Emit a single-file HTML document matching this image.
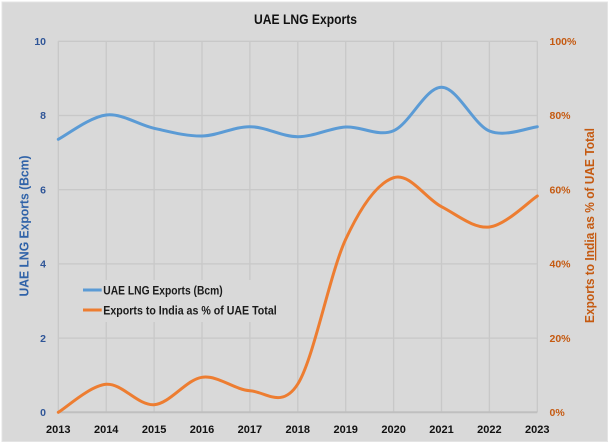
<!DOCTYPE html>
<html>
<head>
<meta charset="utf-8">
<style>
html,body{margin:0;padding:0;background:#ffffff;}
svg{display:block;}
text{font-family:"Liberation Sans",Arial,sans-serif;font-weight:bold;}
</style>
</head>
<body>
<svg width="610" height="445" viewBox="0 0 610 445" xmlns="http://www.w3.org/2000/svg">
  <rect x="0" y="0" width="610" height="445" fill="#ffffff"/>
  <rect x="2" y="2" width="605.5" height="439.5" fill="#d9d9d9" stroke="#e4e4e4" stroke-width="1"/>

  <!-- gridlines horizontal -->
  <g stroke="#c8c8c8" stroke-width="1.3">
    <line x1="58.3" y1="41.3" x2="537.3" y2="41.3"/>
    <line x1="58.3" y1="115.5" x2="537.3" y2="115.5"/>
    <line x1="58.3" y1="189.7" x2="537.3" y2="189.7"/>
    <line x1="58.3" y1="263.9" x2="537.3" y2="263.9"/>
    <line x1="58.3" y1="338.1" x2="537.3" y2="338.1"/>
  </g>
  <!-- gridlines vertical -->
  <g stroke="#c8c8c8" stroke-width="1.3">
    <line x1="58.3" y1="41.3" x2="58.3" y2="412.3"/>
    <line x1="106.2" y1="41.3" x2="106.2" y2="412.3"/>
    <line x1="154.1" y1="41.3" x2="154.1" y2="412.3"/>
    <line x1="202.0" y1="41.3" x2="202.0" y2="412.3"/>
    <line x1="249.9" y1="41.3" x2="249.9" y2="412.3"/>
    <line x1="297.8" y1="41.3" x2="297.8" y2="412.3"/>
    <line x1="345.7" y1="41.3" x2="345.7" y2="412.3"/>
    <line x1="393.6" y1="41.3" x2="393.6" y2="412.3"/>
    <line x1="441.5" y1="41.3" x2="441.5" y2="412.3"/>
    <line x1="489.4" y1="41.3" x2="489.4" y2="412.3"/>
    <line x1="537.3" y1="41.3" x2="537.3" y2="412.3"/>
  </g>
  <!-- x axis line -->
  <line x1="58.3" y1="412.3" x2="537.3" y2="412.3" stroke="#bfbfbf" stroke-width="2"/>

  <!-- title -->
  <text x="254" y="24" font-size="14" fill="#111111" textLength="103" lengthAdjust="spacingAndGlyphs">UAE LNG Exports</text>

  <!-- left ticks -->
  <g font-size="10.5" fill="#2f5597" text-anchor="end">
    <text x="46" y="45">10</text>
    <text x="46" y="119.2">8</text>
    <text x="46" y="193.4">6</text>
    <text x="46" y="267.6">4</text>
    <text x="46" y="341.8">2</text>
    <text x="46" y="416">0</text>
  </g>
  <!-- right ticks -->
  <g font-size="10.5" fill="#c55a11">
    <text x="549.5" y="45">100%</text>
    <text x="549.5" y="119.2">80%</text>
    <text x="549.5" y="193.4">60%</text>
    <text x="549.5" y="267.6">40%</text>
    <text x="549.5" y="341.8">20%</text>
    <text x="549.5" y="416">0%</text>
  </g>
  <!-- x labels -->
  <g font-size="11" fill="#111111" text-anchor="middle">
    <text x="58.3" y="433">2013</text>
    <text x="106.2" y="433">2014</text>
    <text x="154.1" y="433">2015</text>
    <text x="202.0" y="433">2016</text>
    <text x="249.9" y="433">2017</text>
    <text x="297.8" y="433">2018</text>
    <text x="345.7" y="433">2019</text>
    <text x="393.6" y="433">2020</text>
    <text x="441.5" y="433">2021</text>
    <text x="489.4" y="433">2022</text>
    <text x="537.3" y="433">2023</text>
  </g>

  <!-- axis titles -->
  <text transform="translate(28.5,226) rotate(-90)" text-anchor="middle" font-size="12.5" fill="#2f62a8" textLength="141" lengthAdjust="spacingAndGlyphs">UAE LNG Exports (Bcm)</text>
  <text transform="translate(594,225.5) rotate(-90)" text-anchor="middle" font-size="12.5" fill="#c55a11" textLength="195" lengthAdjust="spacingAndGlyphs">Exports to <tspan text-decoration="underline">India</tspan> as % of UAE Total</text>

  <!-- series: orange -->
  <path fill="none" stroke="#ed7d31" stroke-width="3" stroke-linecap="round" stroke-linejoin="round"
    d="M58.3,412.3 C66.3,407.63 90.2,385.57 106.2,384.3
       C122.2,383.03 138.1,405.87 154.1,404.7
       C170.1,403.53 186.0,379.63 202.0,377.3
       C218.0,374.97 233.9,389.58 249.9,390.7
       C265.9,391.82 281.8,409.23 297.8,384
       C313.8,358.77 329.7,273.68 345.7,239.3
       C361.7,204.92 377.6,183.13 393.6,177.7
       C409.6,172.27 425.5,198.48 441.5,206.7
       C457.5,214.92 473.4,228.78 489.4,227
       C505.4,225.22 529.3,201.17 537.3,196"/>
  <!-- series: blue -->
  <path fill="none" stroke="#5b9bd5" stroke-width="3" stroke-linecap="round" stroke-linejoin="round"
    d="M58.3,139.3 C66.3,135.25 90.2,116.83 106.2,115
       C122.2,113.17 138.1,124.8 154.1,128.3
       C170.1,131.8 186.0,136.27 202.0,136
       C218.0,135.73 233.9,126.58 249.9,126.7
       C265.9,126.82 281.8,136.65 297.8,136.7
       C313.8,136.75 329.7,128 345.7,127
       C361.7,126 377.6,137.32 393.6,130.7
       C409.6,124.08 425.5,87.25 441.5,87.3
       C457.5,87.35 473.4,124.43 489.4,131
       C505.4,137.57 529.3,127.42 537.3,126.7"/>

  <!-- legend -->
  <rect x="80" y="280" width="201" height="42" fill="#d9d9d9"/>
  <line x1="83" y1="290" x2="101.7" y2="290" stroke="#5b9bd5" stroke-width="3"/>
  <line x1="83" y1="310" x2="101.7" y2="310" stroke="#ed7d31" stroke-width="3"/>
  <text x="103.3" y="294.3" font-size="11.5" fill="#1a1a1a" textLength="119.4" lengthAdjust="spacingAndGlyphs">UAE LNG Exports (Bcm)</text>
  <text x="103.3" y="314.3" font-size="11.5" fill="#1a1a1a" textLength="173.4" lengthAdjust="spacingAndGlyphs">Exports to India as % of UAE Total</text>
</svg>
</body>
</html>
